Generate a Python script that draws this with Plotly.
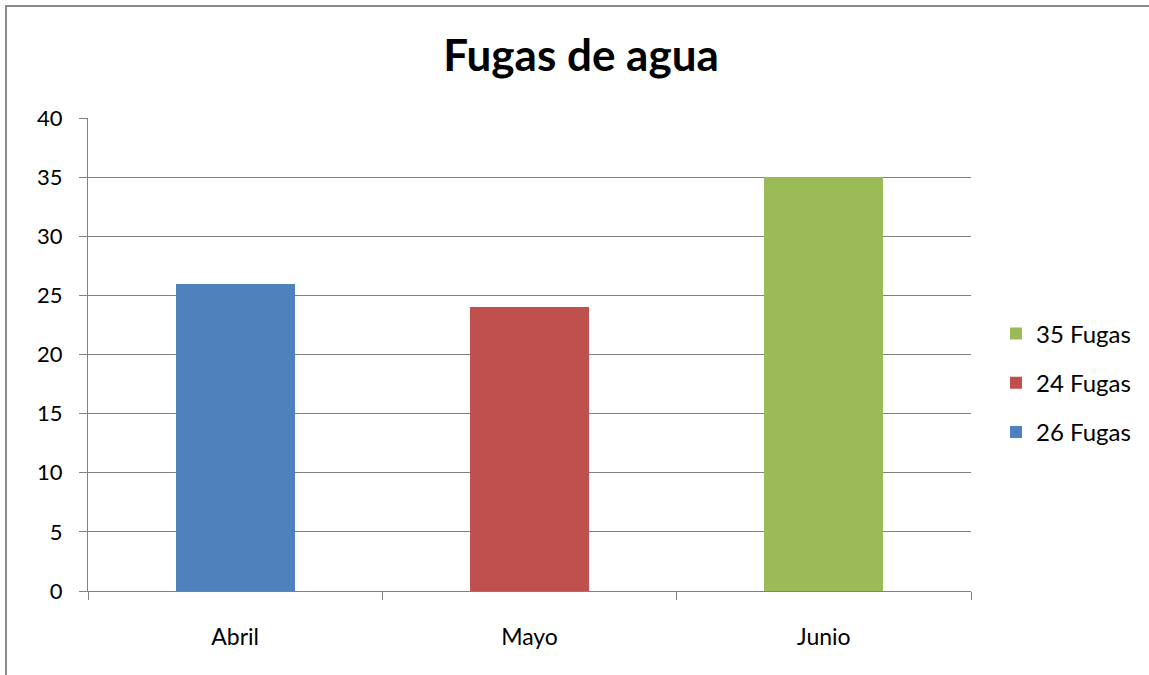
import plotly.graph_objects as go

categories = ["Abril", "Mayo", "Junio"]
values = [26, 24, 35]
series_names = ["26 Fugas", "24 Fugas", "35 Fugas"]
legend_ranks = [3, 2, 1]
colors = ["#4F81BD", "#C0504D", "#9BBB59"]
y_ticks = [0, 5, 10, 15, 20, 25, 30, 35, 40]

W, H = 1149, 675
L, R, T, B = 88, 971, 118, 591

fig = go.Figure()
for cat, val, name, col, rk in zip(categories, values, series_names, colors, legend_ranks):
    fig.add_trace(go.Bar(
        x=[cat], y=[val], name=name, marker=dict(color=col, line=dict(width=0)),
        width=0.405, legendgroup=name, legendrank=rk,
    ))

grid = "#808080"
font_family = "Lato, Calibri, Carlito, sans-serif"

pw = R - L
ph = B - T
def px2x(px):
    return (px - L) / pw
def py2y(py):
    return (B - py) / ph

fig.update_layout(
    width=W, height=H,
    margin=dict(l=L, r=W - R, t=T, b=H - B),
    paper_bgcolor="white", plot_bgcolor="white",
    barmode="stack",
    font=dict(family=font_family, size=22, color="#000000"),
    title=dict(text="<b>Fugas de agua</b>", x=581 / W, xanchor="center",
               y=1 - 56 / H, yanchor="middle",
               font=dict(family=font_family, size=44, color="#000000")),
    legend=dict(x=px2x(996), xanchor="left", y=py2y(383), yanchor="middle",
                traceorder="grouped", tracegroupgap=15,
                font=dict(family=font_family, size=24, color="#000000"),
                bgcolor="rgba(0,0,0,0)"),
    xaxis=dict(type="category", categoryorder="array", categoryarray=categories,
               tickson="boundaries", ticks="outside", ticklen=8, tickcolor=grid,
               tickwidth=1.3, showline=True, linecolor=grid, linewidth=1.3,
               showgrid=False, ticklabelstandoff=25, range=[-0.5, 2.5],
               tickfont=dict(size=23)),
    yaxis=dict(range=[0, 40], tickvals=y_ticks, ticks="outside", ticklen=8,
               tickcolor=grid, tickwidth=1.3, showline=True, linecolor=grid,
               linewidth=1.3, showgrid=True, gridcolor=grid, gridwidth=1.4,
               zeroline=False, ticklabelstandoff=12),
    showlegend=True,
)

# outer chart border (only top & left visible in the frame)
fig.add_shape(type="rect", xref="paper", yref="paper",
              x0=px2x(6), x1=px2x(1200), y0=py2y(720), y1=py2y(6),
              line=dict(color="#8a8a8a", width=2), fillcolor="rgba(0,0,0,0)",
              layer="below")

fig.write_html("out.html", config={"displayModeBar": False},
               post_script="document.body.style.margin='0';document.body.style.overflow='hidden';")
